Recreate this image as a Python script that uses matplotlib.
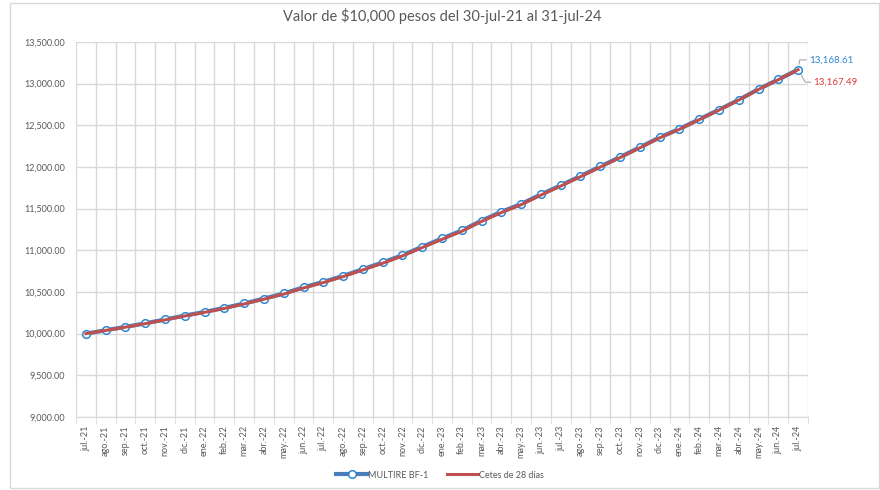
import numpy as np
import matplotlib
matplotlib.use("Agg")
import matplotlib.pyplot as plt
from matplotlib.patches import Rectangle

plt.rcParams['font.family'] = ['Lato', 'DejaVu Sans']

# month labels jul-21 .. jul-24
meses = ['jul.-21', 'ago.-21', 'sep.-21', 'oct.-21', 'nov.-21', 'dic.-21',
         'ene.-22', 'feb.-22', 'mar.-22', 'abr.-22', 'may.-22', 'jun.-22',
         'jul.-22', 'ago.-22', 'sep.-22', 'oct.-22', 'nov.-22', 'dic.-22',
         'ene.-23', 'feb.-23', 'mar.-23', 'abr.-23', 'may.-23', 'jun.-23',
         'jul.-23', 'ago.-23', 'sep.-23', 'oct.-23', 'nov.-23', 'dic.-23',
         'ene.-24', 'feb.-24', 'mar.-24', 'abr.-24', 'may.-24', 'jun.-24',
         'jul.-24']

multitire = [10000.00, 10041.0, 10081.0, 10124.0, 10170.0, 10217.0,
             10261.0, 10309.0, 10362.0, 10421.0, 10482.0, 10556.0,
             10621.0, 10693.0, 10774.0, 10854.0, 10942.0, 11042.0,
             11142.0, 11238.0, 11356.0, 11462.0, 11556.0, 11671.0,
             11779.0, 11891.0, 12006.0, 12119.0, 12236.0, 12355.0,
             12457.0, 12572.0, 12687.0, 12806.0, 12934.0, 13050.0,
             13168.61]

cetes = [10000.00, 10039.0, 10078.0, 10120.0, 10165.0, 10212.0,
         10256.0, 10303.0, 10356.0, 10414.0, 10475.0, 10548.0,
         10613.0, 10685.0, 10765.0, 10845.0, 10933.0, 11033.0,
         11132.0, 11229.0, 11347.0, 11453.0, 11548.0, 11663.0,
         11771.0, 11884.0, 11999.0, 12113.0, 12230.0, 12350.0,
         12452.0, 12568.0, 12683.0, 12803.0, 12931.0, 13048.0,
         13167.49]

yticks = [9000, 9500, 10000, 10500, 11000, 11500, 12000, 12500, 13000, 13500]

gris = '#595959'
x = np.arange(len(meses))

fig = plt.figure(figsize=(8.8, 4.9), dpi=100)
ax = fig.add_axes([76/880, 1-417/490, 732/880, 375/490])

# outer chart border
fig.patches.append(Rectangle((10/880, 2/490), 869/880, 485/490, transform=fig.transFigure,
                             fill=False, edgecolor='#D9D9D9', linewidth=1))

l1, = ax.plot(x, multitire, color='#4A7EBB', linewidth=3, marker='o', markersize=5.5,
              markerfacecolor='white', markeredgecolor='#2E86D0', markeredgewidth=1.1,
              label='MULTIRE BF-1', zorder=3)
l2, = ax.plot(x, cetes, color='#C0504D', linewidth=2.2, label='Cetes de 28 días', zorder=4)

ax.set_xlim(-0.5, len(meses) - 0.5)
ax.set_ylim(9000, 13500)
ax.set_yticks(yticks)
ax.set_yticklabels([f'{v:,.2f}' for v in yticks])
ax.set_xticks(x)
ax.set_xticklabels(meses, rotation=90)
ax.set_xticks(np.arange(-0.5, len(meses)), minor=True)

ax.grid(True, which='major', axis='y', color='#D9D9D9', linewidth=1)
ax.grid(True, which='minor', axis='x', color='#D9D9D9', linewidth=1)
ax.grid(False, which='major', axis='x')
ax.set_axisbelow(True)

ax.tick_params(axis='x', which='major', length=0, labelsize=6.5, labelcolor=gris, pad=6)
ax.tick_params(axis='x', which='minor', length=5, color='#D9D9D9', direction='out')
ax.tick_params(axis='y', length=0, labelsize=6.5, labelcolor=gris, pad=8)

for s in ['top', 'right', 'left']:
    ax.spines[s].set_visible(False)
ax.spines['bottom'].set_color('#D9D9D9')

ax.set_title('Valor de \\$10,000 pesos del 30-jul-21 al 31-jul-24', fontsize=10.5,
             color=gris, pad=15)

# end-point data labels
ax.annotate(f'{multitire[-1]:,.2f}', xy=(x[-1], multitire[-1]), xytext=(8, 7),
            textcoords='offset points', fontsize=7, color='#2E86D0', va='center', ha='left',
            arrowprops=dict(arrowstyle='-', color='#A6A6A6', lw=0.8,
                            connectionstyle='angle,angleA=0,angleB=80,rad=0',
                            shrinkA=0, shrinkB=4))
ax.annotate(f'{cetes[-1]:,.2f}', xy=(x[-1], cetes[-1]), xytext=(11, -9),
            textcoords='offset points', fontsize=7, color='#E03A3A', va='center', ha='left',
            arrowprops=dict(arrowstyle='-', color='#A6A6A6', lw=0.8,
                            connectionstyle='angle,angleA=0,angleB=-60,rad=0',
                            shrinkA=0, shrinkB=4))
for t in ax.texts:
    t.set_clip_on(False)

fig.legend(handles=[l1, l2], loc='center', bbox_to_anchor=(440/880, 1-475/490), ncol=2,
           frameon=False, fontsize=6.5, labelcolor=gris, handlelength=3.5, handletextpad=0.1,
           columnspacing=2)

fig.savefig('out.png', dpi=100)
